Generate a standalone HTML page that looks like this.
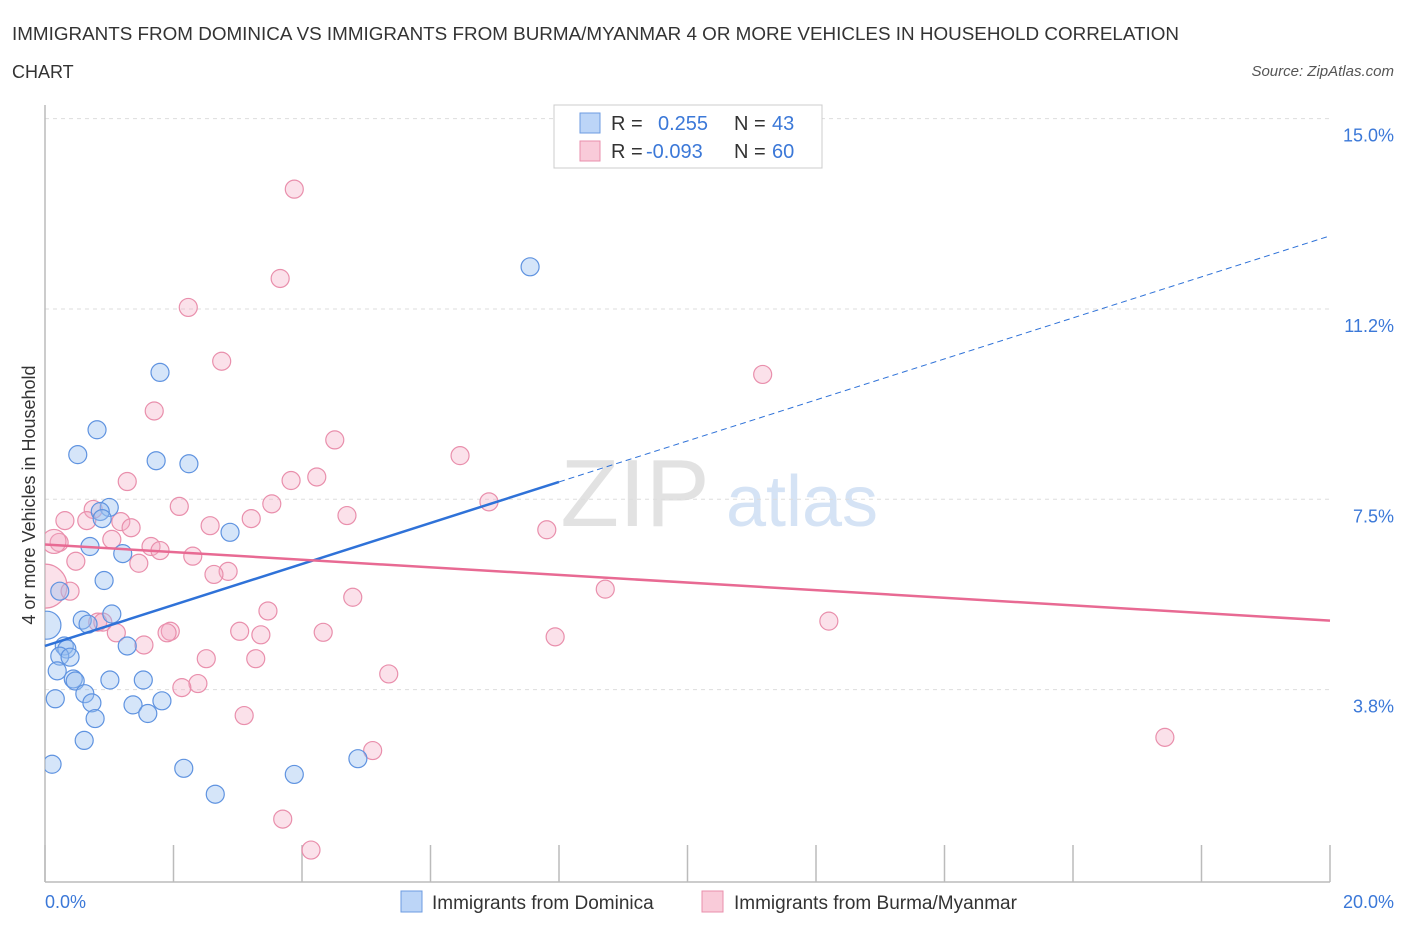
<!DOCTYPE html>
<html><head><meta charset="utf-8"><style>
body{margin:0;background:#fff;font-family:"Liberation Sans",sans-serif}
svg text{font-family:"Liberation Sans",sans-serif}
</style></head><body>
<svg id="chart" width="1406" height="930">
<defs><clipPath id="plotclip"><rect x="45" y="100" width="1300" height="782"/></clipPath></defs>
<text x="12" y="40" font-size="18" fill="#333" textLength="1167" lengthAdjust="spacingAndGlyphs">IMMIGRANTS FROM DOMINICA VS IMMIGRANTS FROM BURMA/MYANMAR 4 OR MORE VEHICLES IN HOUSEHOLD CORRELATION</text>
<text x="12" y="78" font-size="18" fill="#333">CHART</text>
<text x="1394" y="76" font-size="15" fill="#555" font-style="italic" text-anchor="end">Source: ZipAtlas.com</text>
<text x="635" y="526" font-size="96" fill="#e2e2e2" font-family="Liberation Serif" text-anchor="middle">ZIP</text>
<text x="802" y="526" font-size="72" fill="#d5e3f5" text-anchor="middle">atlas</text>
<g id="grid"></g><g id="axes"></g><g id="marks" clip-path="url(#plotclip)"></g><g id="lines"></g>
<text x="35" y="495" font-size="18" fill="#333" text-anchor="middle" transform="rotate(-90 35 495)">4 or more Vehicles in Household</text>
<text x="45" y="908" font-size="18" fill="#3b78d8">0.0%</text>
<text x="1394" y="908" font-size="18" fill="#3b78d8" text-anchor="end">20.0%</text>
<g>
<rect x="554" y="105" width="268" height="63" fill="#fff" stroke="#ccc"/>
<rect x="580" y="113" width="20" height="20" fill="#bcd5f7" stroke="#6c9be0"/>
<rect x="580" y="141" width="20" height="20" fill="#f9cbd9" stroke="#e98fac"/>
<text x="611" y="130" font-size="20" fill="#333">R = </text><text x="658" y="130" font-size="20" fill="#3b78d8">0.255</text>
<text x="734" y="130" font-size="20" fill="#333">N = </text><text x="772" y="130" font-size="20" fill="#3b78d8">43</text>
<text x="611" y="158" font-size="20" fill="#333">R = </text><text x="646" y="158" font-size="20" fill="#3b78d8">-0.093</text>
<text x="734" y="158" font-size="20" fill="#333">N = </text><text x="772" y="158" font-size="20" fill="#3b78d8">60</text>
</g>
<g>
<rect x="401" y="891" width="21" height="21" fill="#bcd5f7" stroke="#6c9be0"/>
<text x="432" y="909" font-size="19" fill="#333">Immigrants from Dominica</text></g>
<g>
<rect x="702" y="891" width="21" height="21" fill="#f9cbd9" stroke="#e98fac"/>
<text x="734" y="909" font-size="19" fill="#333">Immigrants from Burma/Myanmar</text></g>
</svg>
<script>
const yTicks=[15.0,11.25,7.5,3.75];
const yTickLabels=["15.0%","11.2%","7.5%","3.8%"];
const xTicks=[0,2,4,6,8,10,12,14,16,18,20];
const blueX=[7.55,1.79,0.81,0.51,1.73,2.24,1.00,0.86,0.89,2.88,0.70,1.21,0.92,0.23,1.04,0.58,0.67,0.03,1.28,0.30,0.34,0.23,0.39,0.19,0.44,0.47,1.01,1.53,0.16,0.62,0.73,1.37,1.82,0.78,1.60,0.61,0.11,2.16,3.88,4.87,2.65];
const blueY=[12.08,10.0,8.87,8.38,8.26,8.2,7.34,7.26,7.12,6.85,6.57,6.43,5.9,5.69,5.24,5.12,5.04,5.02,4.61,4.61,4.55,4.41,4.39,4.12,3.96,3.92,3.94,3.94,3.57,3.67,3.49,3.45,3.53,3.18,3.28,2.75,2.28,2.2,2.08,2.39,1.69];
const blueR=[9,9,9,9,9,9,9,9,9,9,9,9,9,9,9,9,9,14,9,9,9,9,9,9,9,9,9,9,9,9,9,9,9,9,9,9,9,9,9,9,9];
const pinkX=[3.88,3.66,2.23,2.75,11.17,1.70,4.51,6.46,3.83,4.23,1.28,6.91,2.09,3.53,0.75,0.31,0.65,1.18,1.34,2.57,3.21,4.70,7.81,0.22,1.04,0.14,1.65,1.79,2.30,1.46,0.48,2.85,2.63,0,0.39,8.72,4.79,3.47,0.82,0.90,12.20,1.11,1.95,1.90,3.03,3.36,4.33,7.94,1.54,2.51,3.28,5.35,2.38,2.13,3.10,5.10,17.43,3.70,4.14];
const pinkY=[13.61,11.85,11.28,10.22,9.96,9.24,8.67,8.36,7.87,7.94,7.85,7.45,7.36,7.41,7.3,7.08,7.08,7.06,6.94,6.98,7.12,7.18,6.9,6.65,6.71,6.67,6.57,6.49,6.38,6.24,6.28,6.08,6.02,5.79,5.69,5.73,5.57,5.3,5.08,5.08,5.1,4.87,4.9,4.87,4.9,4.83,4.88,4.79,4.63,4.36,4.36,4.06,3.87,3.79,3.24,2.55,2.81,1.2,0.59];
const pinkR=[9,9,9,9,9,9,9,9,9,9,9,9,9,9,9,9,9,9,9,9,9,9,9,9,9,12,9,9,9,9,9,9,9,22,9,9,9,9,9,9,9,9,9,9,9,9,9,9,9,9,9,9,9,9,9,9,9,9,9];
const blueTrend=[4.61,0.404];
const pinkTrend=[6.61,-0.075];
const NS="http://www.w3.org/2000/svg";
const X=v=>45+v*64.25, Y=v=>880-v*50.76;
function mk(tag,attrs,parent){const e=document.createElementNS(NS,tag);for(const k in attrs)e.setAttribute(k,attrs[k]);document.getElementById(parent).appendChild(e);return e;}
yTicks.forEach((t,i)=>{
 const g=mk('line',{x1:45,x2:1330,y1:Y(t),y2:Y(t),stroke:'#ddd','stroke-dasharray':'4 4'},'grid');
 
 
 const l=mk('text',{x:1394,y:Y(t)+23,'font-size':18,fill:'#3b78d8','text-anchor':'end'},'grid');
 l.textContent=yTickLabels[i];
 
 
});
const ax=mk('line',{x1:45,x2:45,y1:105,y2:882,stroke:'#bbb','stroke-width':1.5},'axes');


const bx=mk('line',{x1:45,x2:1330,y1:882,y2:882,stroke:'#bbb','stroke-width':1.5},'axes');


xTicks.forEach(t=>{
 const tk=mk('line',{x1:X(t),x2:X(t),y1:845,y2:882,stroke:'#bbb','stroke-width':1.5},'axes');
 
 
});
pinkX.forEach((v,i)=>{
 const c=mk('circle',{cx:X(v),cy:Y(pinkY[i]),r:pinkR[i],fill:'rgba(244,170,195,0.35)',stroke:'#e98fac','stroke-width':1.2},'marks');
 
 
});
blueX.forEach((v,i)=>{
 const c=mk('circle',{cx:X(v),cy:Y(blueY[i]),r:blueR[i],fill:'rgba(150,190,240,0.4)',stroke:'#5f93e0','stroke-width':1.2},'marks');
 
 
});
const bt=v=>blueTrend[0]+blueTrend[1]*v, pt=v=>pinkTrend[0]+pinkTrend[1]*v;
const l1=mk('line',{x1:X(0),y1:Y(bt(0)),x2:X(8),y2:Y(bt(8)),stroke:'#2f72d8','stroke-width':2.5},'lines');


const l2=mk('line',{x1:X(8),y1:Y(bt(8)),x2:X(19.97),y2:Y(bt(19.97)),stroke:'#2f72d8','stroke-width':1,'stroke-dasharray':'6 4'},'lines');


const l3=mk('line',{x1:X(0),y1:Y(pt(0)),x2:X(20),y2:Y(pt(20)),stroke:'#e86a93','stroke-width':2.5},'lines');


</script>
</body></html>
